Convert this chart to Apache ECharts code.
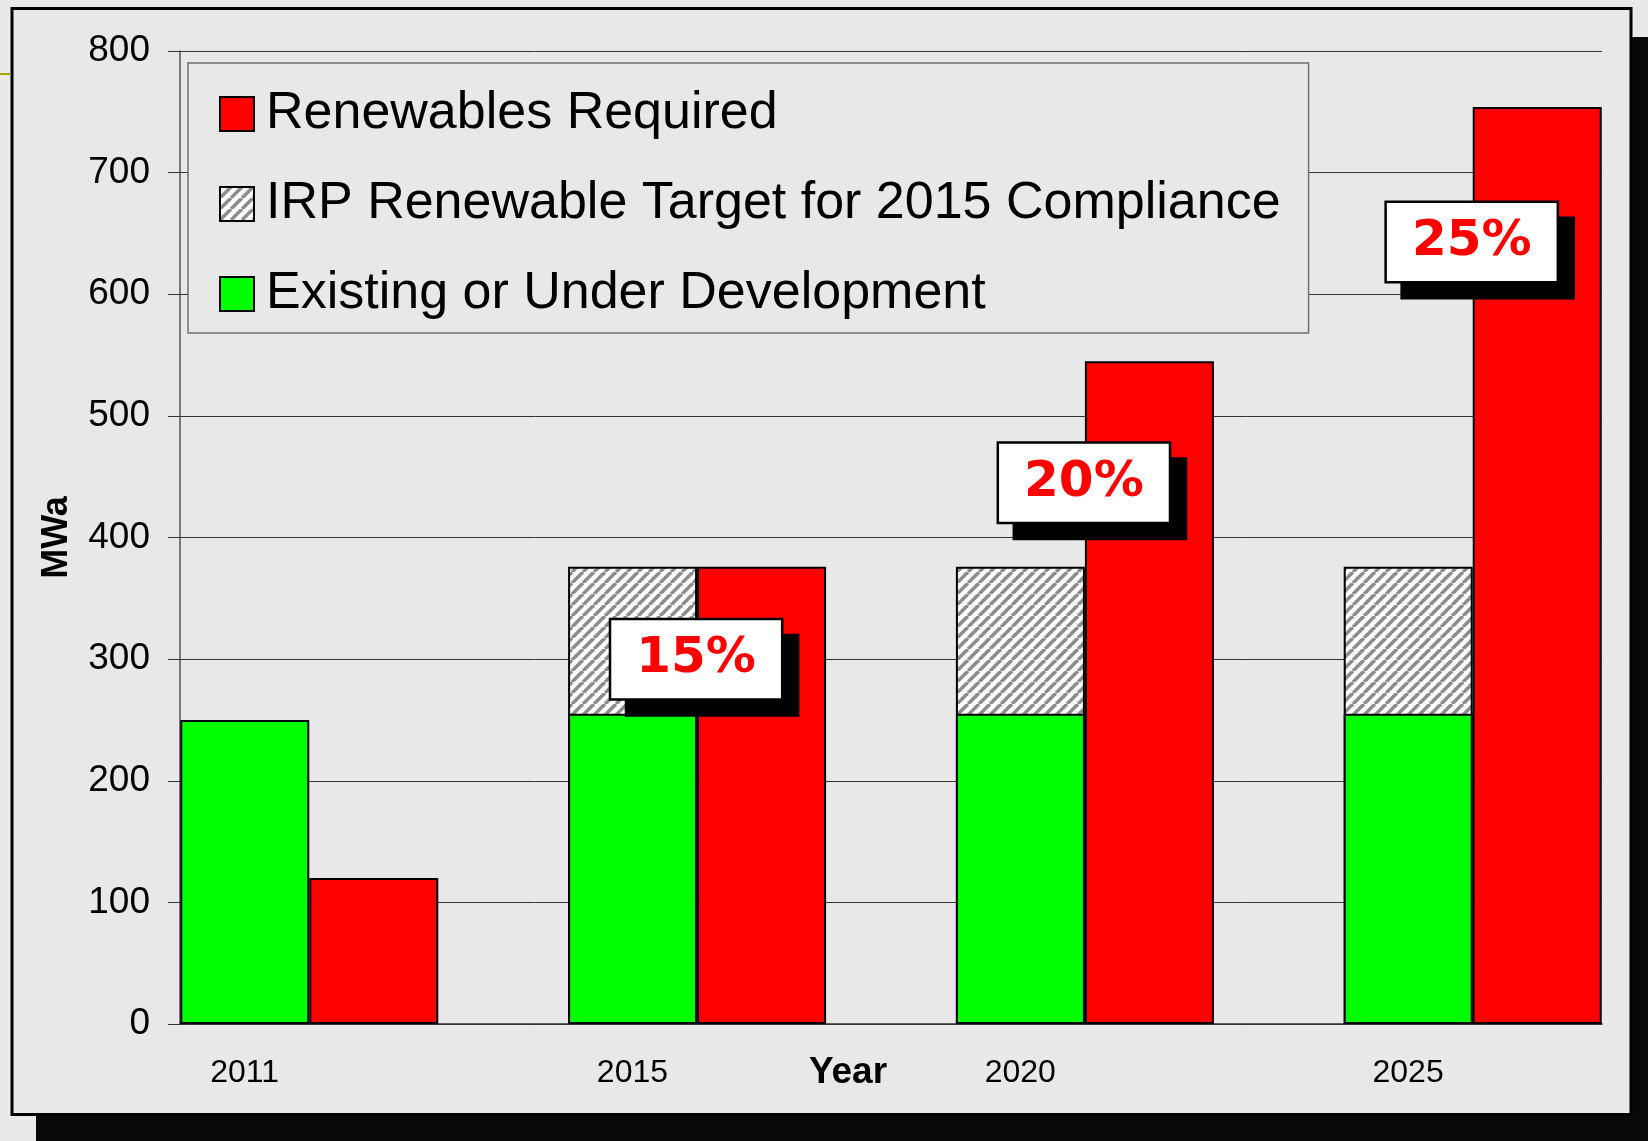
<!DOCTYPE html>
<html><head><meta charset="utf-8">
<script src="https://cdn.jsdelivr.net/npm/echarts@6/dist/echarts.min.js"></script>
<style>html,body{margin:0;padding:0;background:#e9e9e9}#c{width:1648px;height:1141px}</style>
</head><body><div id="c"></div>
<script>
// ---- data ----
const years = ['2011', '2015', '2020', '2025'];
const existing = [250, 255, 255, 255];          // Existing or Under Development (MWa)
const irpTarget = [null, 121, 121, 121];        // IRP Renewable Target for 2015 Compliance (on top of existing)
const required = [120, 376, 545, 754];          // Renewables Required (MWa)
const pctLabels = ['', '15%', '20%', '25%'];    // percentage call-outs
const pctLabelValue = [null, 300, 445, 643];    // MWa level where each call-out sits
const yMin = 0, yMax = 800, yStep = 100;
const seriesNames = ['Renewables Required', 'IRP Renewable Target for 2015 Compliance', 'Existing or Under Development'];

// ---- styling helpers ----
function hatch() {
  const s = 11;
  const c = document.createElement('canvas');
  c.width = s; c.height = s;
  const g = c.getContext('2d');
  g.fillStyle = '#ffffff'; g.fillRect(0, 0, s, s);
  g.strokeStyle = '#8d8d8d'; g.lineWidth = 3.6;
  for (const k of [-1, 0, 1]) { g.beginPath(); g.moveTo(k * s, s); g.lineTo(k * s + s, 0); g.stroke(); }
  return c;
}
const FONT = '"Liberation Sans", Arial, sans-serif';
const barBorder = { borderColor: '#000', borderWidth: 2 };

// IRP bar top = existing + target (drawn behind the existing bar)
const irpTop = irpTarget.map((v, i) => v == null ? null : existing[i] + v);

const chart = echarts.init(document.getElementById('c'), null, { renderer: 'canvas' });
const labelPts = [];
pctLabelValue.forEach((v, i) => { if (v != null) labelPts.push([i, v]); });

chart.setOption({
  animation: false,
  backgroundColor: '#e9e9e9',
  graphic: [
    { type: 'rect', z: -20, silent: true, shape: { x: 36, y: 37, width: 1700, height: 1200 }, style: { fill: '#080808' } },
    { type: 'rect', z: -19, silent: true, shape: { x: 12, y: 8.5, width: 1619, height: 1106 }, style: { fill: '#e8e8e8', stroke: '#000', lineWidth: 3 } },
    { type: 'line', z: -18, silent: true, shape: { x1: 0, y1: 74, x2: 10.5, y2: 74 }, style: { stroke: '#a3a300', lineWidth: 2 } }
  ],
  grid: { left: 180, right: 46, top: 51, bottom: 117, containLabel: false },
  legend: {
    data: seriesNames,
    orient: 'vertical',
    left: 188, top: 63,
    padding: [23, 28, 11, 31],
    itemWidth: 34, itemHeight: 34, itemGap: 34,
    icon: 'rect',
    selectedMode: false,
    backgroundColor: '#e8e8e8',
    borderColor: '#6e6e6e', borderWidth: 1.5,
    textStyle: { fontSize: 52, lineHeight: 56, color: '#000', fontFamily: FONT, padding: [0, 0, 0, 7] }
  },
  xAxis: {
    type: 'value',
    min: -1 / 3, max: 10 / 3,
    name: 'Year', nameLocation: 'middle', nameGap: 30, nameMoveOverlap: false,
    nameTextStyle: { fontSize: 37, fontWeight: 'bold', color: '#000', fontFamily: FONT, padding: [0, 86, 0, 0] },
    axisLine: { show: true, onZero: false, lineStyle: { color: '#333', width: 1.5 } },
    axisTick: { show: false },
    splitLine: { show: false },
    axisLabel: {
      customValues: years.map((y, i) => i - 1 / 6),
      formatter: v => years[Math.round(v + 1 / 6)],
      fontSize: 32, color: '#000', fontFamily: FONT, margin: 33
    }
  },
  yAxis: {
    type: 'value', min: yMin, max: yMax, interval: yStep,
    name: 'MWa', nameLocation: 'middle', nameRotate: 90, nameGap: 105, nameMoveOverlap: false,
    nameTextStyle: { fontSize: 36, fontWeight: 'bold', color: '#000', fontFamily: FONT },
    axisLine: { show: true, onZero: false, lineStyle: { color: '#555', width: 1.5 } },
    axisTick: { show: true, length: 12, lineStyle: { color: '#333', width: 1 } },
    splitLine: { show: true, lineStyle: { color: '#333', width: 1 } },
    axisLabel: { fontSize: 37, color: '#000', fontFamily: FONT, margin: 30 }
  },
  series: [
    {
      name: seriesNames[1], type: 'bar', stack: 'have', barWidth: 129, barGap: '0%', silent: true,
      itemStyle: Object.assign({ color: { image: hatch(), repeat: 'repeat' } }, barBorder),
      data: irpTop.map((v, i) => [i, v])
    },
    {
      name: seriesNames[2], type: 'bar', stack: 'have', barWidth: 129, barGap: '0%', silent: true,
      itemStyle: Object.assign({ color: '#00ff00' }, barBorder),
      data: existing.map((v, i) => [i, v])
    },
    {
      name: seriesNames[0], type: 'bar', stack: 'need', barWidth: 129, barGap: '0%', silent: true,
      itemStyle: Object.assign({ color: '#ff0000' }, barBorder),
      data: required.map((v, i) => [i, v])
    },
    {
      name: 'pct', type: 'scatter', symbolSize: 1, silent: true, z: 10,
      itemStyle: { color: 'rgba(0,0,0,0)', opacity: 1 },
      label: {
        show: true, position: 'inside', offset: [-1, 0],
        formatter: p => pctLabels[p.value[0]],
        color: '#ff0000', fontFamily: '"DejaVu Sans", Verdana, sans-serif', fontWeight: 'bold', fontSize: 50,
        lineHeight: 50, opacity: 1,
        backgroundColor: '#ffffff', borderColor: '#000', borderWidth: 2.5,
        padding: [14, 25, 14, 25],
        shadowColor: '#000', shadowBlur: 0, shadowOffsetX: 16, shadowOffsetY: 16
      },
      data: labelPts
    }
  ]
});
</script>
</body></html>
